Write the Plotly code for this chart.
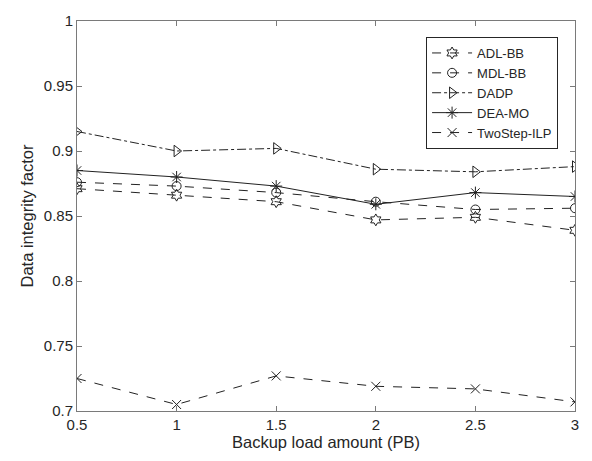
import plotly.graph_objects as go

load_pb = [0.5, 1, 1.5, 2, 2.5, 3]
adl_bb = [0.871, 0.866, 0.861, 0.847, 0.849, 0.839]
mdl_bb = [0.876, 0.873, 0.868, 0.861, 0.855, 0.856]
dadp = [0.915, 0.900, 0.902, 0.886, 0.884, 0.888]
dea_mo = [0.885, 0.880, 0.873, 0.859, 0.868, 0.865]
twostep_ilp = [0.725, 0.705, 0.727, 0.719, 0.717, 0.707]

x_ticks = [0.5, 1, 1.5, 2, 2.5, 3]
x_ticktext = ["0.5", "1", "1.5", "2", "2.5", "3"]
y_ticks = [0.7, 0.75, 0.8, 0.85, 0.9, 0.95, 1]
y_ticktext = ["0.7", "0.75", "0.8", "0.85", "0.9", "0.95", "1"]

series = [
    ("ADL-BB", adl_bb, "dash", "hexagram-open", 9),
    ("MDL-BB", mdl_bb, "dash", "circle-open", 9),
    ("DADP", dadp, "dashdot", "triangle-right-open", 10),
    ("DEA-MO", dea_mo, "solid", "asterisk-open", 10),
    ("TwoStep-ILP", twostep_ilp, "dash", "x-thin-open", 9),
]

fig = go.Figure()
for name, vals, dash, sym, size in series:
    fig.add_trace(go.Scatter(
        x=load_pb, y=vals, name=name, mode="lines+markers",
        line=dict(color="#222222", width=1, dash=dash),
        marker=dict(symbol=sym, size=size, color="#222222",
                    line=dict(color="#222222", width=1)),
    ))

axis_common = dict(
    showgrid=False, zeroline=False, showline=True, mirror="ticks",
    linecolor="#7a7a7a", linewidth=1, ticks="inside", ticklen=5,
    tickcolor="#7a7a7a",
    tickfont=dict(family="Liberation Sans, Arial", size=15, color="#262626"),
)

fig.update_layout(
    width=592, height=461,
    margin=dict(l=77, r=17, t=17, b=50),
    paper_bgcolor="white", plot_bgcolor="white",
    font=dict(family="Liberation Sans, Arial", size=15, color="#262626"),
    showlegend=True,
    legend=dict(
        x=0.966, y=0.959, xanchor="right", yanchor="top",
        bgcolor="white", bordercolor="#262626", borderwidth=1,
        font=dict(size=13, color="#262626"), tracegroupgap=0,
        itemwidth=40,
    ),
)
fig.update_xaxes(
    range=[0.5, 3], tickvals=x_ticks, ticktext=x_ticktext,
    title=dict(text="Backup load amount (PB)", font=dict(size=16.5), standoff=2),
    **axis_common,
)
fig.update_yaxes(
    range=[0.7, 1], tickvals=y_ticks, ticktext=y_ticktext,
    title=dict(text="Data integrity factor", font=dict(size=16.5), standoff=6),
    **axis_common,
)

fig.write_html("out.html")
